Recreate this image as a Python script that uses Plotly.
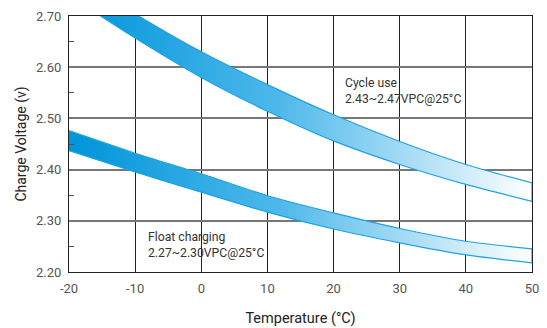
import plotly.graph_objects as go

temps = [-20, -10, 0, 10, 20, 30, 40, 50]
cycle_upper = [2.785, 2.704, 2.630, 2.566, 2.507, 2.455, 2.410, 2.374]
cycle_lower = [2.740, 2.657, 2.580, 2.514, 2.456, 2.410, 2.371, 2.338]
float_upper = [2.476, 2.432, 2.392, 2.349, 2.3155, 2.285, 2.260, 2.245]
float_lower = [2.437, 2.3955, 2.356, 2.317, 2.284, 2.257, 2.2335, 2.218]

x_ticks = [-20, -10, 0, 10, 20, 30, 40, 50]
x_tick_labels = ["-20", "-10", "0", "10", "20", "30", "40", "50"]
y_ticks = [2.20, 2.30, 2.40, 2.50, 2.60, 2.70]
y_tick_labels = ["2.20", "2.30", "2.40", "2.50", "2.60", "2.70"]

FONT = "Roboto, sans-serif"
EDGE = "#1ea2e2"
grad = dict(type="horizontal", start=-20, stop=50,
            colorscale=[[0, "#0094da"], [0.45, "#4db8ea"], [0.72, "#a3daf4"], [1, "#ffffff"]])

fig = go.Figure()
for up, lo in [(cycle_upper, cycle_lower), (float_upper, float_lower)]:
    fig.add_trace(go.Scatter(
        x=temps, y=lo, mode="lines",
        line=dict(color=EDGE, width=1.2, shape="spline", smoothing=0.8),
        hoverinfo="skip", showlegend=False,
    ))
    fig.add_trace(go.Scatter(
        x=temps, y=up, mode="lines", fill="tonexty",
        fillgradient=grad,
        line=dict(color=EDGE, width=1.2, shape="spline", smoothing=0.8),
        hoverinfo="skip", showlegend=False,
    ))
    # closing edge at the right end
    fig.add_trace(go.Scatter(
        x=[temps[-1], temps[-1]], y=[lo[-1], up[-1]], mode="lines",
        line=dict(color=EDGE, width=1.2),
        hoverinfo="skip", showlegend=False,
    ))

fig.add_annotation(x=21.4, y=2.553, text="Cycle use<br>2.43~2.47VPC@25°C",
                   showarrow=False, xanchor="left", yanchor="middle", align="left",
                   font=dict(family=FONT, size=12.2, color="#333"))
fig.add_annotation(x=-8.4, y=2.2535, text="Float charging<br>2.27~2.30VPC@25°C",
                   showarrow=False, xanchor="left", yanchor="middle", align="left",
                   font=dict(family=FONT, size=12.2, color="#333"))

fig.update_layout(
    width=547, height=328,
    margin=dict(l=69, r=15, t=16, b=56),
    paper_bgcolor="white", plot_bgcolor="white",
    font=dict(family=FONT, size=13, color="#444"),
    xaxis=dict(range=[-20, 50], tickvals=x_ticks, ticktext=x_tick_labels, automargin=False,
               showgrid=True, gridcolor="#222222", gridwidth=1,
               showline=True, linecolor="#222", linewidth=1, mirror=True, ticks="",
               zeroline=False, title=dict(text="Temperature (°C)", font=dict(size=14.5, color="#222"), standoff=18),
               tickfont=dict(size=13, color="#555"), ticklabelstandoff=4),
    yaxis=dict(range=[2.20, 2.70], tickvals=y_ticks, ticktext=y_tick_labels, automargin=False,
               showgrid=True, gridcolor="#777", gridwidth=1.5,
               showline=True, linecolor="#222", linewidth=1, mirror=True, ticks="",
               zeroline=False, title=dict(text="Charge Voltage (v)", font=dict(size=14, color="#222"), standoff=6),
               tickfont=dict(size=13, color="#555"), ticklabelstandoff=4,
               minor=dict(ticks="inside", ticklen=5, tickcolor="#555", tickvals=[2.25, 2.35, 2.45, 2.55, 2.65], showgrid=False)),
)

fig.write_html("out.html")
